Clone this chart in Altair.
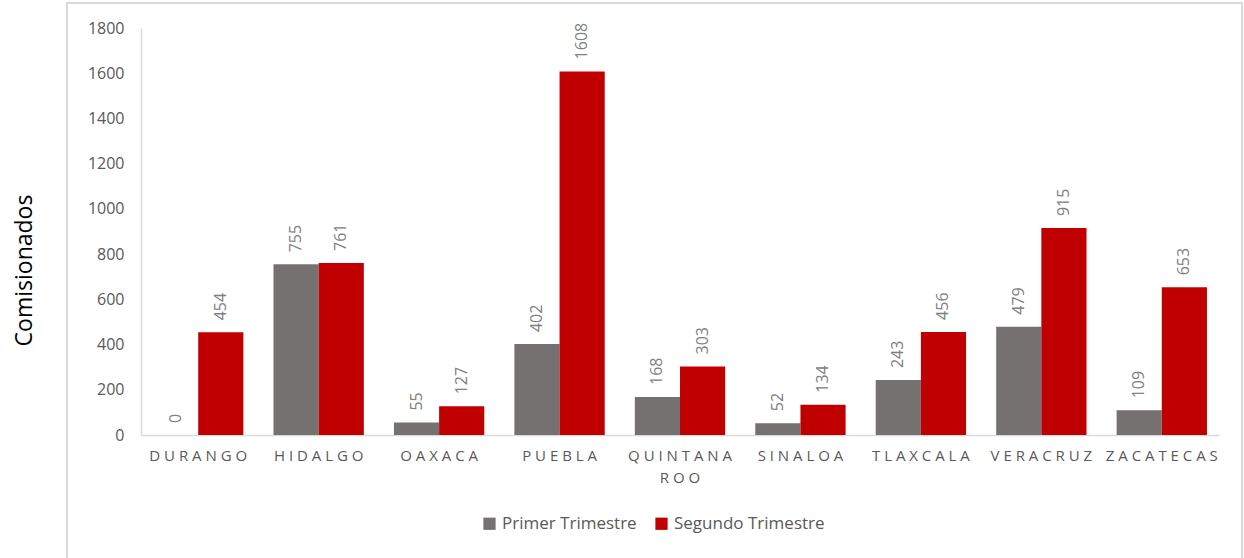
import altair as alt
import pandas as pd

estados = ["DURANGO", "HIDALGO", "OAXACA", "PUEBLA", "QUINTANA ROO",
           "SINALOA", "TLAXCALA", "VERACRUZ", "ZACATECAS"]
primer = [0, 755, 55, 402, 168, 52, 243, 479, 109]
segundo = [454, 761, 127, 1608, 303, 134, 456, 915, 653]
series = ["Primer Trimestre", "Segundo Trimestre"]
colores = ["#767171", "#C00000"]
y_ticks = [0, 200, 400, 600, 800, 1000, 1200, 1400, 1600, 1800]

rows = []
for e, a, b in zip(estados, primer, segundo):
    rows.append({"estado": e, "serie": series[0], "valor": a})
    rows.append({"estado": e, "serie": series[1], "valor": b})
df = pd.DataFrame(rows)

FONT = "Open Sans"
W, H = 1078, 407

x_enc = alt.X("estado:N", sort=estados,
              scale=alt.Scale(paddingInner=0.25, paddingOuter=0.1),
              axis=alt.Axis(title=None, labelAngle=0, ticks=False,
                            domainColor="#d9d9d9", domainWidth=1.5,
                            labelColor="#595959", labelFontSize=15, labelFont=FONT,
                            labelPadding=13, labelLineHeight=22,
                            labelExpr="split(join(split(datum.label, ''), ' '), '   ')"))
y_enc = alt.Y("valor:Q", scale=alt.Scale(domain=[0, 1800], nice=False),
              axis=alt.Axis(values=y_ticks, grid=False, ticks=False, format="d",
                            domainColor="#d9d9d9", domainWidth=1.5,
                            labelColor="#595959", labelFontSize=16, labelFont=FONT,
                            labelPadding=17,
                            title="Comisionados", titleFont=FONT, titleFontSize=23,
                            titleFontWeight="normal", titleColor="#000000",
                            titleAngle=270, titleX=-117, titleY=242,
                            titleAlign="center", titleBaseline="middle"))
color_enc = alt.Color("serie:N", sort=series,
                      scale=alt.Scale(domain=series, range=colores),
                      legend=alt.Legend(title=None, orient="none", direction="horizontal",
                                        legendX=340, legendY=487,
                                        symbolType="square", symbolSize=150,
                                        symbolStrokeWidth=0,
                                        labelFont=FONT, labelFontSize=17,
                                        labelColor="#595959", columnPadding=16,
                                        labelLimit=300))
xoff = alt.XOffset("serie:N", sort=series)

border = alt.Chart(pd.DataFrame({"a": [0]})).mark_rect(
    fill=None, stroke="#d9d9d9", strokeWidth=2
).encode(x=alt.value(-74), x2=alt.value(1101), y=alt.value(-25), y2=alt.value(600))

bars = alt.Chart(df).mark_bar().encode(x=x_enc, y=y_enc, color=color_enc, xOffset=xoff)

labels = alt.Chart(df).mark_text(
    angle=270, align="left", baseline="middle", dx=12,
    font=FONT, fontSize=16, color="#808080"
).encode(x=alt.X("estado:N", sort=estados), xOffset=xoff, y="valor:Q",
         text="valor:Q")

chart = alt.layer(border, bars, labels).properties(
    width=W, height=H,
    autosize=alt.AutoSizeParams(type="none"),
    padding={"left": 141, "top": 28, "right": 25, "bottom": 123},
    background="white",
).configure_view(stroke=None)

chart.save("out.html", embed_options={"renderer": "svg", "actions": False})
